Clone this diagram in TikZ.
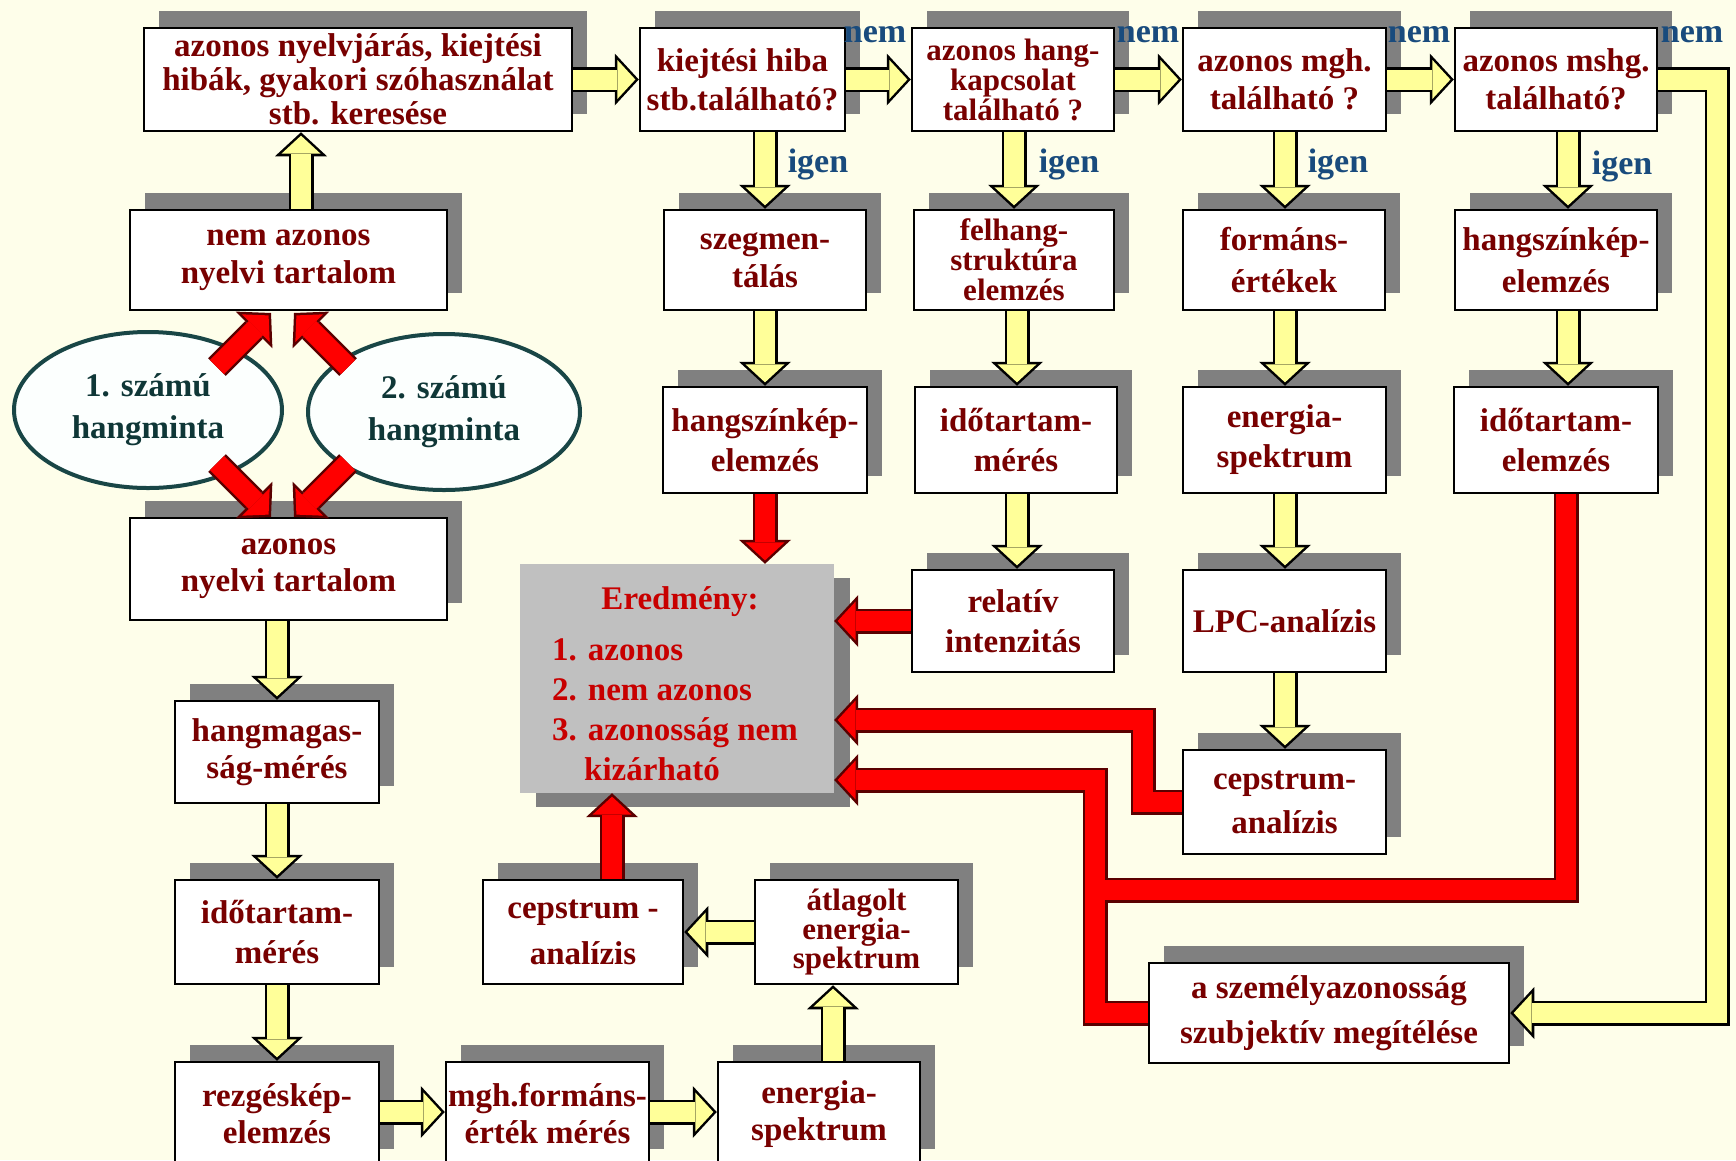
\documentclass[tikz,border=0pt]{standalone}
\usepackage{fontspec}
\setmainfont{Liberation Serif}
\usetikzlibrary{arrows.meta,shadows,shapes.geometric}
\definecolor{bg}{RGB}{254,254,234}
\definecolor{shd}{RGB}{128,128,128}
\definecolor{boxtxt}{RGB}{120,0,0}
\definecolor{lbltxt}{RGB}{25,75,125}
\definecolor{yfill}{RGB}{255,255,153}
\definecolor{rfill}{RGB}{255,0,0}
\definecolor{rline}{RGB}{90,0,0}
\definecolor{eredbg}{RGB}{192,192,192}
\definecolor{ellline}{RGB}{25,70,70}
\definecolor{elltxt}{RGB}{15,55,55}
\definecolor{ellfill}{RGB}{252,255,254}
\definecolor{eredtxt}{RGB}{200,0,0}
\newcommand\yarr[1]{\draw[yout] #1; \draw[yin] #1;}
\newcommand\rarr[1]{\draw[rout] #1; \draw[rin] #1;}
\begin{document}
\begin{tikzpicture}[x=1pt,y=-1pt,
  every node/.style={font=\bfseries\fontsize{33}{40}\selectfont},
  box/.style={draw=black, line width=2.5pt, fill=white, text=boxtxt, align=center, inner sep=0pt,
    drop shadow={shadow xshift=15pt, shadow yshift=17pt, fill=shd, opacity=1}},
  tight/.style={font=\bfseries\fontsize{31}{30}\selectfont},
  ell/.style={ellipse, draw=ellline, line width=4pt, fill=ellfill, text=elltxt, align=center, inner sep=0pt,
    font=\bfseries\fontsize{33}{42}\selectfont},
  lbl/.style={text=lbltxt, inner sep=0pt, anchor=base, font=\bfseries\fontsize{34}{40}\selectfont},
  etxt/.style={text=eredtxt, inner sep=0pt},
  yout/.style={draw=black, line width=25pt, -{Triangle[width=52pt,length=24pt,line width=0pt]}},
  yin/.style={draw=yfill, line width=20pt, -{Triangle[width=39pt,length=18pt,line width=0pt]}, shorten >=3.4pt},
  rout/.style={draw=rline, line width=25pt, -{Triangle[width=52pt,length=24pt,line width=0pt]}},
  rin/.style={draw=rfill, line width=20pt, -{Triangle[width=39pt,length=18pt,line width=0pt]}, shorten >=3.4pt},
  routL/.style={draw=rline, line width=25pt},
  rinL/.style={draw=rfill, line width=20pt},
]
\useasboundingbox (0,0) rectangle (1736,1160);
\fill[bg] (0,0) rectangle (1736,1160);
\clip (0,0) rectangle (1736,1160);

% top row
\node[box, minimum width=428pt, minimum height=103pt, font=\bfseries\fontsize{33}{34}\selectfont] (b1) at (358,79.5)
  {azonos nyelvjárás, kiejtési\\hibák, gyakori szóhasználat\\stb. keresése};
\node[box, minimum width=205pt, minimum height=103pt, font=\bfseries\fontsize{33}{39}\selectfont] (b2) at (742.5,79.5) {kiejtési hiba\\stb.található?};
\node[box, tight, minimum width=202pt, minimum height=103pt] (b3) at (1013,79.5) {azonos hang-\\kapcsolat\\található ?};
\node[box, minimum width=203pt, minimum height=103pt, font=\bfseries\fontsize{33}{38}\selectfont] (b4) at (1284.5,79.5) {azonos mgh.\\található ?};
\node[box, minimum width=202pt, minimum height=103pt, font=\bfseries\fontsize{33}{38}\selectfont] (b5) at (1556,79.5) {azonos mshg.\\található?};

% second row
\node[box, minimum width=317pt, minimum height=100pt, font=\bfseries\fontsize{33}{38}\selectfont] (nazon) at (288.5,260) {nem azonos\\nyelvi tartalom};
\node[box, minimum width=202pt, minimum height=100pt, font=\bfseries\fontsize{33}{38}\selectfont] (szeg) at (765,260) {szegmen-\\tálás};
\node[box, tight, minimum width=200pt, minimum height=100pt] (felh) at (1014,260) {felhang-\\struktúra\\elemzés};
\node[box, minimum width=202pt, minimum height=100pt, font=\bfseries\fontsize{33}{42}\selectfont] (form) at (1284,260) {formáns-\\értékek};
\node[box, minimum width=202pt, minimum height=100pt, font=\bfseries\fontsize{33}{42}\selectfont] (hsz1) at (1556,260) {hangszínkép-\\elemzés};

% third row
\node[box, minimum width=204pt, minimum height=106pt] (hsz2) at (765,440) {hangszínkép-\\elemzés};
\node[box, minimum width=202pt, minimum height=106pt] (idom) at (1016,440) {időtartam-\\mérés};
\node[box, minimum width=203pt, minimum height=106pt] (ensp) at (1284.5,440) {energia-\\spektrum};
\node[box, minimum width=204pt, minimum height=106pt] (idoe) at (1556,440) {időtartam-\\elemzés};

% fourth rows right
\node[box, minimum width=202pt, minimum height=102pt] (rel) at (1013,621) {relatív\\intenzitás};
\node[box, minimum width=203pt, minimum height=102pt] (lpc) at (1284.5,621) {LPC-analízis};
\node[box, minimum width=203pt, minimum height=104pt, font=\bfseries\fontsize{33}{44}\selectfont] (cepR) at (1284.5,802) {cepstrum-\\analízis};

% result box
\node[fill=eredbg, minimum width=314pt, minimum height=229pt, inner sep=0pt,
  drop shadow={shadow xshift=16pt, shadow yshift=-14pt, fill=shd, opacity=1}] (ered) at (677,678.5) {};
\node[etxt] (eh) at (680,602) {Eredmény:};
\node[etxt, anchor=base west] (el1) at (552,660) {1. azonos};
\node[etxt, anchor=base west] (el2) at (552,700) {2. nem azonos};
\node[etxt, anchor=base west] (el3) at (552,740) {3. azonosság nem};
\node[etxt, anchor=base west] (el4) at (584,780) {kizárható};

% left column
\node[ell, minimum width=268pt, minimum height=156pt] (e1) at (148,410) {1. számú\\hangminta};
\node[ell, minimum width=272pt, minimum height=156pt] (e2) at (444,412) {2. számú\\hangminta};
\node[box, minimum width=317pt, minimum height=102pt, font=\bfseries\fontsize{33}{37}\selectfont] (azon) at (288.5,569) {azonos\\nyelvi tartalom};
\node[box, minimum width=204pt, minimum height=102pt, font=\bfseries\fontsize{33}{37}\selectfont] (hmag) at (277,752) {hangmagas-\\ság-mérés};
\node[box, minimum width=204pt, minimum height=104pt] (idoL) at (277,932) {időtartam-\\mérés};
\node[box, minimum width=204pt, minimum height=104pt, font=\bfseries\fontsize{33}{37}\selectfont] (rezg) at (277,1114) {rezgéskép-\\elemzés};
\node[box, minimum width=203pt, minimum height=104pt, font=\bfseries\fontsize{33}{37}\selectfont] (mghf) at (547.5,1114) {mgh.formáns-\\érték mérés};
\node[box, minimum width=202pt, minimum height=104pt, font=\bfseries\fontsize{33}{37}\selectfont] (ensB) at (819,1114) {energia-\\spektrum};
\node[box, minimum width=203pt, minimum height=104pt, font=\bfseries\fontsize{31}{29}\selectfont] (atl) at (856.5,932) {átlagolt\\energia-\\spektrum};
\node[box, minimum width=200pt, minimum height=104pt, font=\bfseries\fontsize{33}{46}\selectfont] (cepB) at (583,932) {cepstrum -\\analízis};
\node[box, minimum width=360pt, minimum height=100pt, font=\bfseries\fontsize{33}{45}\selectfont] (szem) at (1329,1013) {a személyazonosság\\szubjektív megítélése};

% labels
\node[lbl] (n1) at (875,42) {nem};
\node[lbl] (n2) at (1148,42) {nem};
\node[lbl] (n3) at (1419,42) {nem};
\node[lbl] (n4) at (1692,42) {nem};
\node[lbl] (i1) at (818,172) {igen};
\node[lbl] (i2) at (1069,172) {igen};
\node[lbl] (i3) at (1338,172) {igen};
\node[lbl] (i4) at (1622,174) {igen};

% helper coordinates
\coordinate (c1) at (301,0);
\coordinate (c2) at (765,0);
\coordinate (c3) at (1014,0);
\coordinate (c3b) at (1017,0);
\coordinate (c4) at (1285,0);
\coordinate (c5) at (1568,0);
\coordinate (cl) at (277,0);
\coordinate (cb) at (833,0);
\coordinate (rb) at (0,1112);
\coordinate (yc) at (1717,0);
\coordinate (r2) at (612,0);
\coordinate (r4a) at (1143,720);
\coordinate (r5x) at (1566,0);
\coordinate (r5a) at (1566,890);
\coordinate (r5b) at (1095,780);
\coordinate (r6) at (1095,890);
\coordinate (d1t) at (217,367);
\coordinate (d1h) at (271,313);
\coordinate (d2t) at (348,367);
\coordinate (d2h) at (294,313);
\coordinate (d3t) at (217,463);
\coordinate (d3h) at (271,517);
\coordinate (d4t) at (348,463);
\coordinate (d4h) at (294,517);

% yellow arrows
\yarr{(b1.east) -- (b2.west)}
\yarr{(b2.east) -- (b3.west)}
\yarr{(b3.east) -- (b4.west)}
\yarr{(b4.east) -- (b5.west)}
\yarr{(c1 |- nazon.north) -- (c1 |- b1.south)}
\yarr{(c2 |- b2.south) -- (c2 |- szeg.north)}
\yarr{(c3 |- b3.south) -- (c3 |- felh.north)}
\yarr{(c4 |- b4.south) -- (c4 |- form.north)}
\yarr{(c5 |- b5.south) -- (c5 |- hsz1.north)}
\yarr{(c2 |- szeg.south) -- (c2 |- hsz2.north)}
\yarr{(c3b |- felh.south) -- (c3b |- idom.north)}
\yarr{(c4 |- form.south) -- (c4 |- ensp.north)}
\yarr{(c5 |- hsz1.south) -- (c5 |- idoe.north)}
\yarr{(c3b |- idom.south) -- (c3b |- rel.north)}
\yarr{(c4 |- ensp.south) -- (c4 |- lpc.north)}
\yarr{(c4 |- lpc.south) -- (c4 |- cepR.north)}
\yarr{(cl |- azon.south) -- (cl |- hmag.north)}
\yarr{(cl |- hmag.south) -- (cl |- idoL.north)}
\yarr{(cl |- idoL.south) -- (cl |- rezg.north)}
\yarr{(rezg.east |- rb) -- (mghf.west |- rb)}
\yarr{(mghf.east |- rb) -- (ensB.west |- rb)}
\yarr{(cb |- ensB.north) -- (cb |- atl.south)}
\yarr{(atl.west) -- (cepB.east)}
\yarr{(b5.east) -| (yc |- szem.east) -- (szem.east)}

% red arrows
\rarr{(hsz2.south) -- (hsz2.south |- ered.north)}
\rarr{(r2 |- cepB.north) -- (r2 |- ered.south)}
\rarr{(rel.west) -- (ered.east |- rel.west)}
\rarr{(cepR.west) -| (r4a) -- (ered.east |- r4a)}
\draw[rout] (r5x |- idoe.south) -- (r5a) -| (r5b) -- (ered.east |- r5b);
\draw[routL] (szem.west) -| (r6);
\draw[rin] (r5x |- idoe.south) -- (r5a) -| (r5b) -- (ered.east |- r5b);
\draw[rinL] (szem.west) -| (r6);
\rarr{(d1t) -- (d1h)}
\rarr{(d2t) -- (d2h)}
\rarr{(d3t) -- (d3h)}
\rarr{(d4t) -- (d4h)}
\end{tikzpicture}
\end{document}
